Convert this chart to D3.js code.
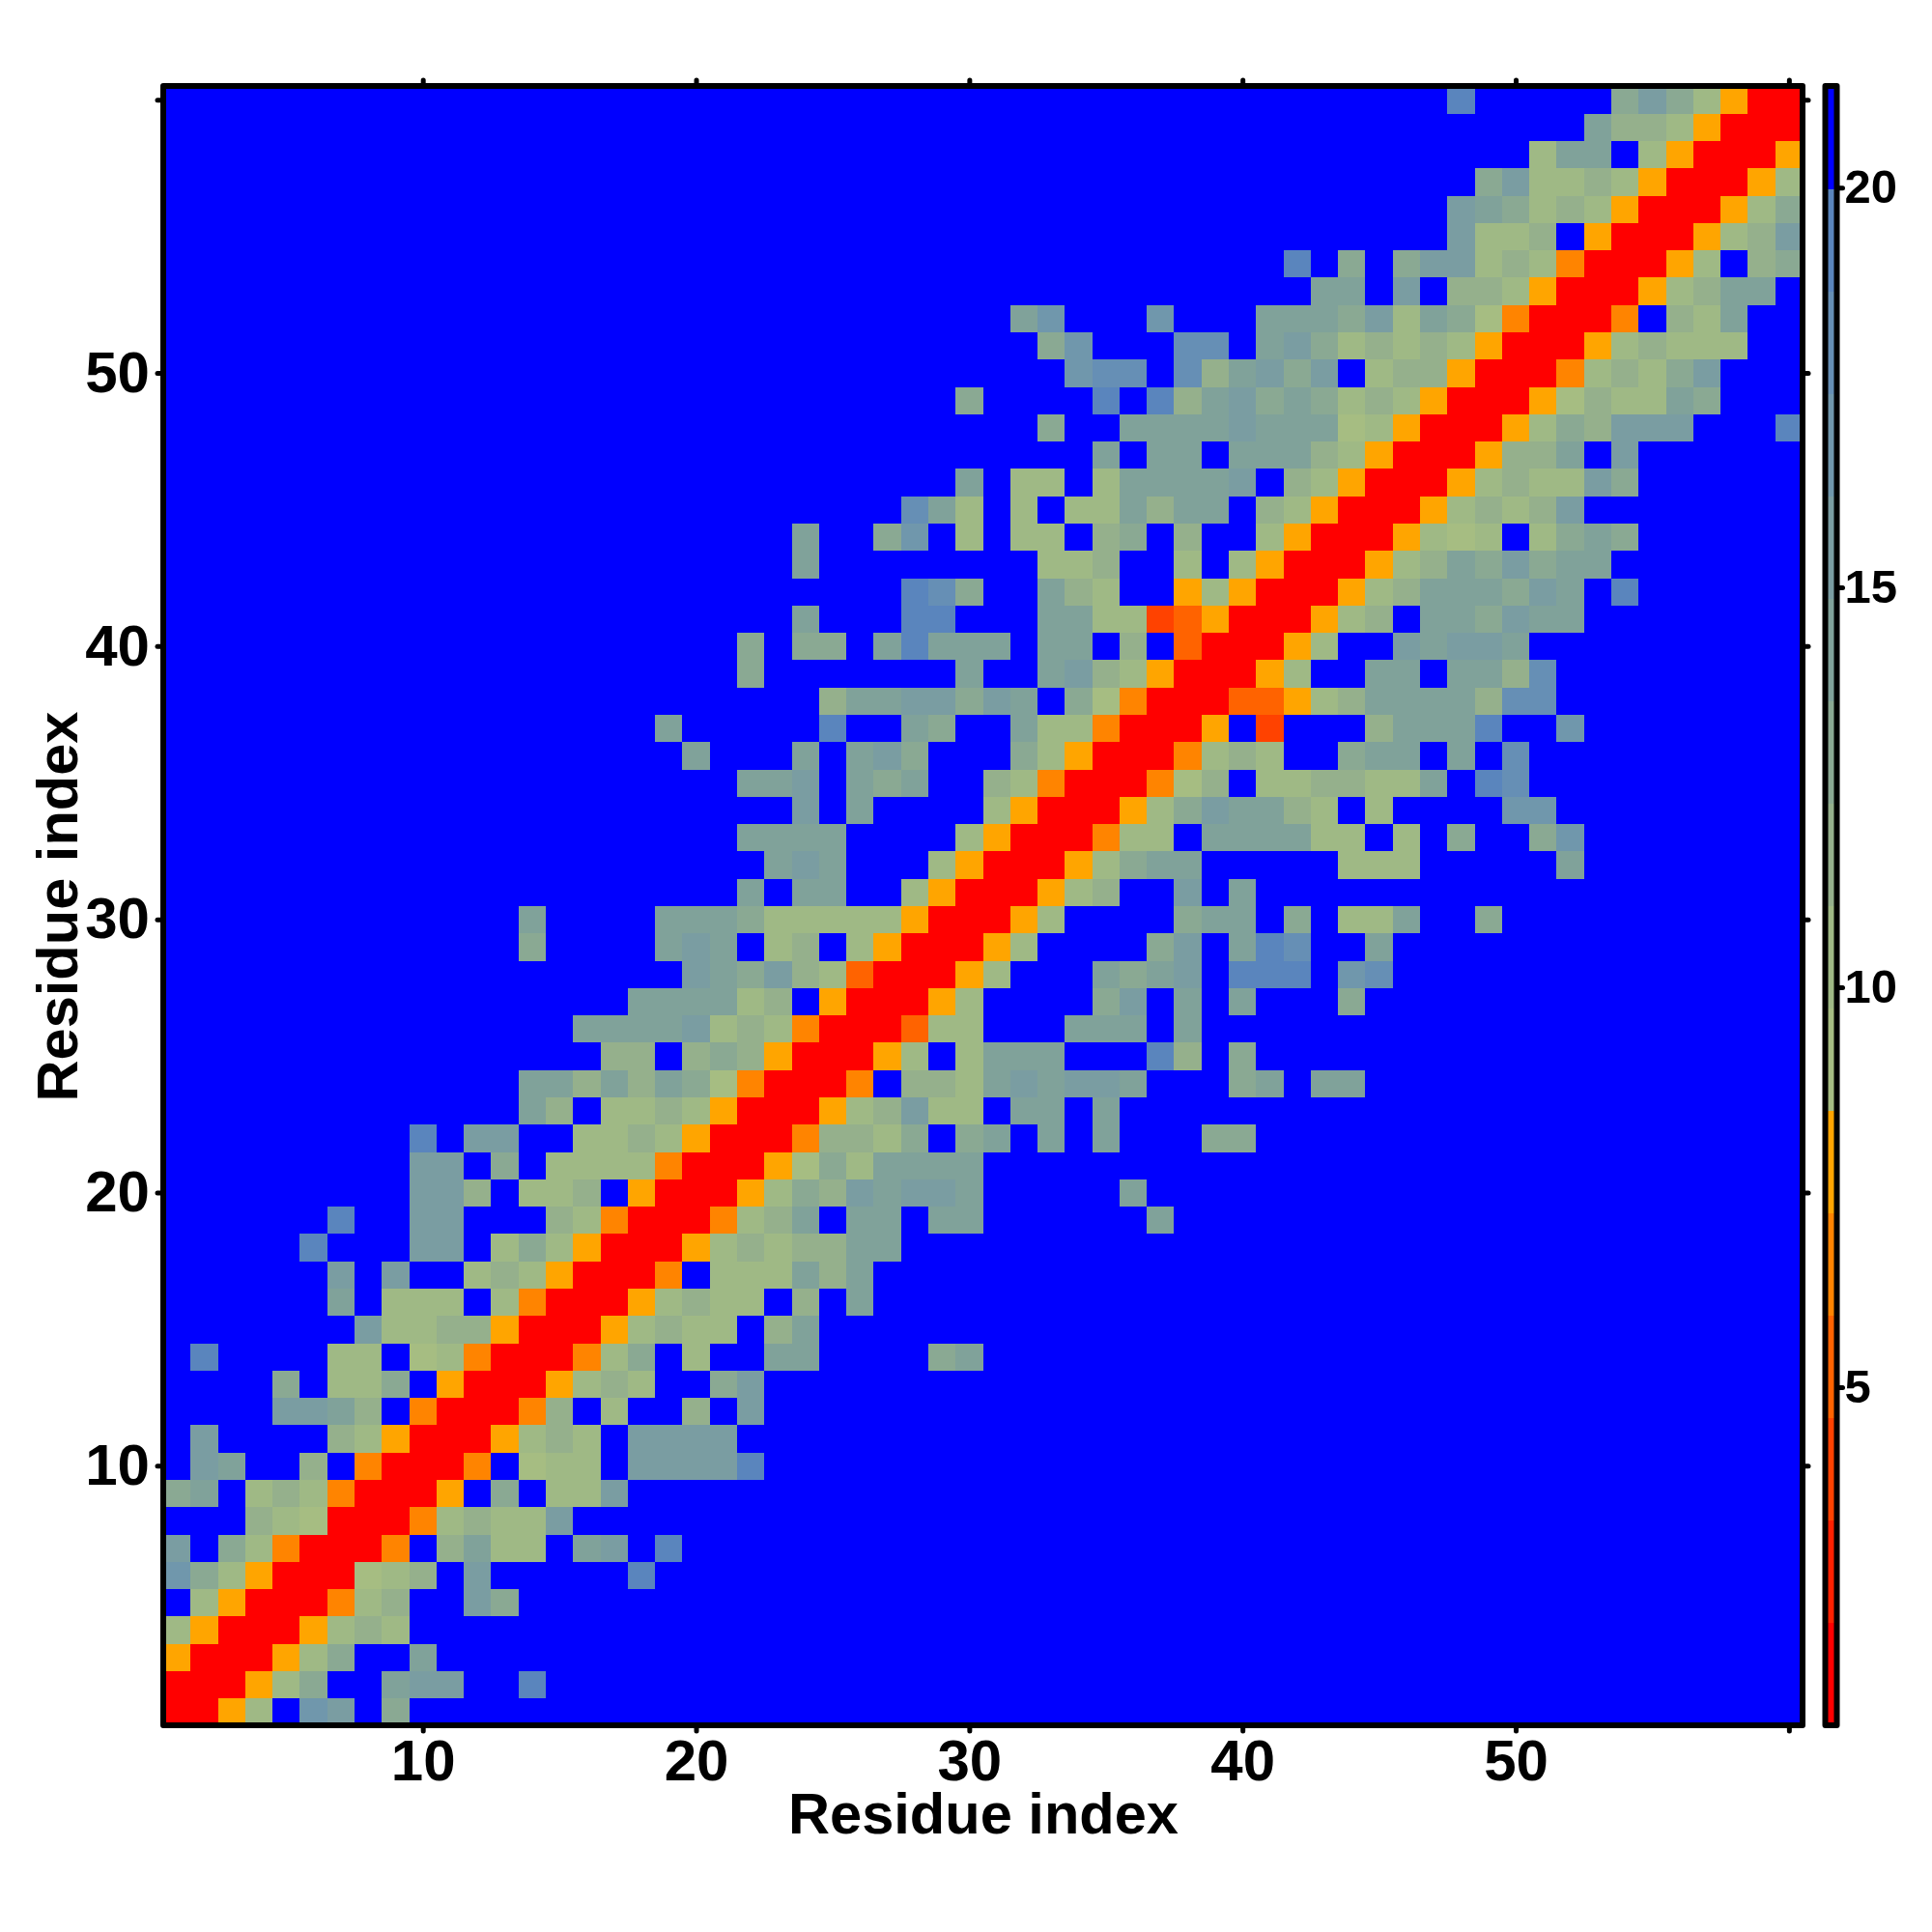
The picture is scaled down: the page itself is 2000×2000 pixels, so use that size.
<!DOCTYPE html>
<html>
<head>
<meta charset="utf-8">
<script src="https://cdn.jsdelivr.net/npm/d3@7/dist/d3.min.js"></script>
<style>
html,body{margin:0;padding:0;background:#fff}
text{font-family:"Liberation Sans",Arial,sans-serif;font-weight:700;fill:#000}
</style>
</head>
<body>
<script>
// Upper triangle, one string per residue, starting at the diagonal. Each hex digit = colour band index (f = beyond cut-off).
const triangleRows = [
"0057fcbf9","00579ffabbffe","00579ffa","005787","00478ffb9","00678fbfffffe","004f8a77fabfe","0047877b","005f9f77b","004f677fbbbbe",
"005787fbbbb","0048f7ff8fb","005787ff9b","00479f7ffaaffff9a","0057877f8a","0057877f8fa","004f777a8a","00578788aa","00478afaafaaffffffa","005798babbafffffa",
"005697aaaa","0048879f9afafafff99","00578b77faafa","004f887ababbafff9afaa","0057f7aaafffe8f9","00377fffaaafa","0057ffff9bfafafff9","0057fffa9abfeeefcd","0057ffff9bfaedffa","0057ffff9aaf9f77aff9",
"00578ffbfa","00579aafffff777fffffa","00477faaaa77f7f9ff9c","00579baa87f7ffffcc","00468f778877afed","004787ff9aafafd","005f2fff8aaaeffc","0033578aaaa8dd","0057ffaafaa8d","0057ffbabba",
"00578faa9baa","00578aaa9bafe","00578a9b9aa","005767f79a9","0057878b","0057877b9","00588afb","005798bbbfffe","0056877a9","0047879b",
"00578777","004f87a","00578aa","0057f89","00578b","00579","0057","005","00","0"
];
const bandColours = ["#ff0000","#ff2100","#ff4200","#ff6300","#ff8400","#ffa500","#a6bd82","#9fb985","#95b08c","#8aa993","#80a29a","#7a9da2","#7097ac","#668fb5","#5a85bd","#0000ff"];
const valueMin = 0.773, valueMax = 21.27;
const residues = d3.range(1, 61);
const axisTicks = [10, 20, 30, 40, 50, 60];
const axisLabels = ["10", "20", "30", "40", "50", ""];
const barTicks = [5, 10, 15, 20];
const axisTitle = "Residue index";

const svg = d3.select("body").append("svg").attr("width", 2000).attr("height", 2000).attr("viewBox", "0 0 2000 2000");
const L = 169, R = 1866, T = 89, B = 1786;

const colour = d3.scaleQuantize().domain([valueMin, valueMax]).range(bandColours);
const bandWidth = (valueMax - valueMin) / bandColours.length;
const cells = [];
triangleRows.forEach((s, i) => {
  const r = i + 1;
  residues.filter(c => c >= r).forEach(c => {
    const ch = s[c - r] || "f";
    const v = valueMin + (parseInt(ch, 16) + 0.5) * bandWidth;
    cells.push({ r, c, v });
    if (c !== r) cells.push({ r: c, c: r, v });
  });
});

const xBand = d3.scaleBand().domain(residues).range([L, R]);
const yBand = d3.scaleBand().domain(residues).range([B, T]);
const x = d3.scaleLinear().domain([0.5, 60.5]).range([L, R]);
const y = d3.scaleLinear().domain([0.5, 60.5]).range([B, T]);

svg.append("g").attr("shape-rendering", "crispEdges").selectAll("rect").data(cells).join("rect")
  .attr("x", d => xBand(d.c)).attr("y", d => yBand(d.r))
  .attr("width", xBand.bandwidth() + 0.5).attr("height", yBand.bandwidth() + 0.5)
  .attr("fill", d => colour(d.v));

const fmt = d => axisLabels[axisTicks.indexOf(d)];
function styleAxis(g, size) {
  g.select(".domain").remove();
  g.selectAll(".tick line").attr("stroke", "#000").attr("stroke-width", 5).attr("stroke-linecap", "round");
  g.selectAll("text").style("font-size", size + "px");
}
const tickLen = 6;
svg.append("g").attr("transform", `translate(0,${B})`)
  .call(d3.axisBottom(x).tickValues(axisTicks).tickFormat(fmt).tickSize(tickLen).tickPadding(8))
  .call(styleAxis, 60);
svg.append("g").attr("transform", `translate(${L},0)`)
  .call(d3.axisLeft(y).tickValues(axisTicks).tickFormat(fmt).tickSize(tickLen).tickPadding(8))
  .call(styleAxis, 60);
svg.append("g").attr("transform", `translate(0,${T})`)
  .call(d3.axisTop(x).tickValues(axisTicks).tickFormat("").tickSize(tickLen))
  .call(styleAxis, 60);
svg.append("g").attr("transform", `translate(${R},0)`)
  .call(d3.axisRight(y).tickValues(axisTicks).tickFormat("").tickSize(tickLen))
  .call(styleAxis, 60);

svg.append("rect").attr("x", L).attr("y", T).attr("width", R - L).attr("height", B - T)
  .attr("fill", "none").attr("stroke", "#000").attr("stroke-width", 6).attr("stroke-linejoin", "round");

svg.append("text").attr("x", (L + R) / 2 + 0.5).attr("y", 1898).attr("text-anchor", "middle").style("font-size", "59.6px").text(axisTitle);
svg.append("text").attr("transform", `translate(80,${(T + B) / 2 + 1}) rotate(-90)`).attr("text-anchor", "middle").style("font-size", "59.6px").text(axisTitle);

// colour bar
const barL = 1889.5, barR = 1901.5;
const barY = d3.scaleLinear().domain([valueMin, valueMax]).range([B, T]);
svg.append("g").attr("shape-rendering", "crispEdges").selectAll("rect").data(bandColours).join("rect")
  .attr("x", barL).attr("width", barR - barL)
  .attr("y", (d, i) => barY(valueMin + (i + 1) * bandWidth))
  .attr("height", (d, i) => barY(valueMin + i * bandWidth) - barY(valueMin + (i + 1) * bandWidth) + 0.5)
  .attr("fill", d => d);
svg.append("g").attr("transform", `translate(${barR},0)`)
  .call(d3.axisRight(barY).tickValues(barTicks).tickFormat(d3.format("d")).tickSize(tickLen).tickPadding(2))
  .call(styleAxis, 49);
svg.append("rect").attr("x", barL).attr("y", T).attr("width", barR - barL).attr("height", B - T)
  .attr("fill", "none").attr("stroke", "#000").attr("stroke-width", 6).attr("stroke-linejoin", "round");
</script>
</body>
</html>
